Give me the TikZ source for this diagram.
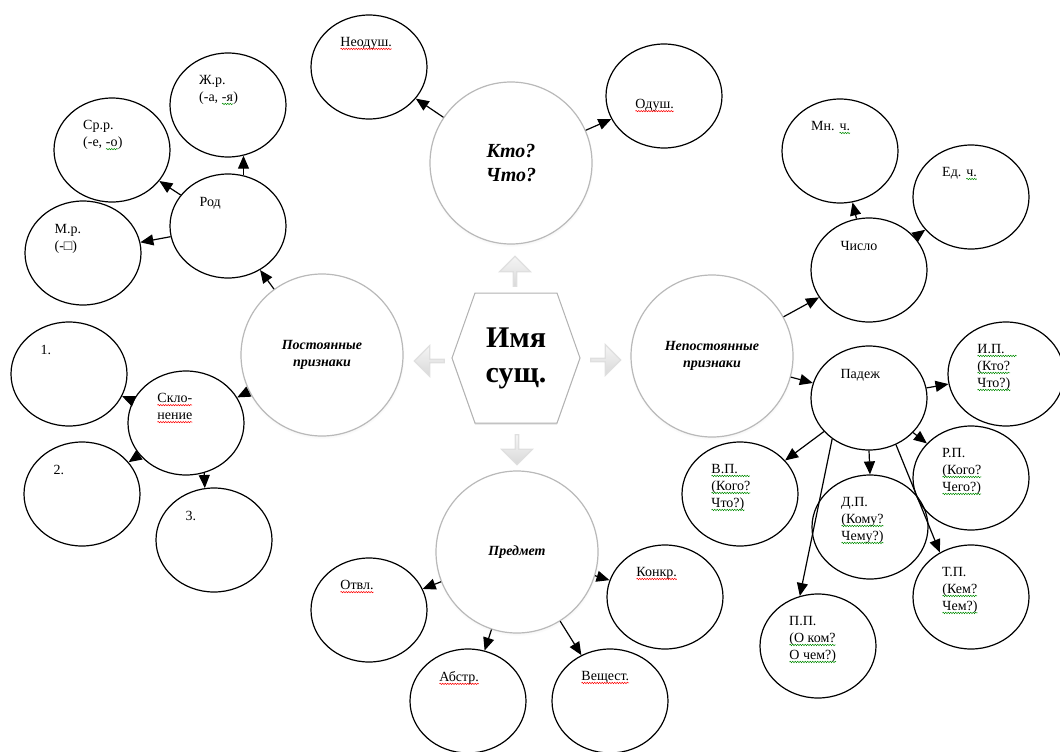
\documentclass[tikz,border=0pt]{standalone}
\usepackage{fontspec}
\setmainfont{Liberation Serif}
\usetikzlibrary{arrows.meta,shapes.geometric,shapes.arrows,shadows,decorations.pathmorphing}
\newcommand{\wavy}[2]{\tikz[baseline=(w.base)]{\node[inner sep=0pt,outer sep=0pt,anchor=base,draw=none,fill=none] (w) {#2};
  \draw[#1,line width=.5pt,decorate,decoration={snake,amplitude=.7pt,segment length=2.5pt}]
    ([yshift=-2.2pt]w.base west) -- ([yshift=-2.2pt]w.base east);}}
\newcommand{\redw}[1]{\wavy{red}{#1}}
\newcommand{\grnw}[1]{\wavy{green!55!black}{#1}}
\tikzset{
  oval/.style={ellipse,draw,line width=1.2pt,minimum width=116pt,minimum height=104pt,inner sep=0pt},
  ovaltext/.style={anchor=north west,xshift=-29pt,yshift=-23pt,inner sep=0pt,align=left,
    font=\fontsize{14}{17}\selectfont},
  bigcirc/.style={circle,draw=gray!55,fill=white,minimum size=162pt,inner sep=0pt,align=center,
    font=\fontsize{14}{17}\selectfont\bfseries\itshape,
    circular drop shadow={opacity=.25,shadow xshift=0pt,shadow yshift=-1.5pt,shadow scale=1.02}},
  grayarrow/.style={single arrow,top color=gray!8,bottom color=gray!30,draw=gray!25,
    minimum height=30pt,minimum width=31pt,single arrow head extend=5pt,inner sep=0pt}
}

\begin{document}
\begin{tikzpicture}[x=1pt,y=-1pt,>={Triangle[length=13pt,width=11pt]},line width=1.2pt]
        \useasboundingbox (0,0) rectangle (1060,752);

        % centre
        \draw[draw=gray!60,fill=white,line width=1pt,drop shadow={opacity=.25,shadow xshift=0pt,shadow yshift=-1.5pt}]
          (475,293) -- (557,293) -- (580,358) -- (557,423) -- (475,423) -- (452,358) -- cycle;
        \node[font=\fontsize{30}{35}\selectfont\bfseries,align=center] (imya) at (516,358) {Имя\\сущ.};

        \node[grayarrow,rotate=90] (up) at (515,272) {};
        \node[grayarrow,rotate=180] (lft) at (430,361) {};
        \node[grayarrow] (rgt) at (605,360) {};
        \node[grayarrow,rotate=-90] (dwn) at (517,449) {};

        \node[bigcirc,font=\fontsize{20}{24}\selectfont\bfseries\itshape] (kto) at (511,163) {Кто?\\Что?};
        \node[bigcirc] (post) at (322,355) {Постоянные\\признаки};
        \node[bigcirc] (nepost) at (712,356) {Непостоянные\\признаки};
        \node[bigcirc] (pred) at (517,552) {Предмет};

        % top
        \node[oval,label={[ovaltext]90:{\redw{Неодуш.}}}] (neod) at (369,67) {};
        \node[oval,label={[ovaltext,yshift=-33pt]90:{\redw{Одуш.}}}] (odush) at (664,96) {};

        % left
        \node[oval,label={[ovaltext]90:{Род}}] (rod) at (228,226) {};
        \node[oval,label={[ovaltext]90:{Ж.р.\\(-а, \grnw{-я})}}] (zhr) at (228,105) {};
        \node[oval,label={[ovaltext]90:{Ср.р.\\(-е, \grnw{-о})}}] (srr) at (112,150) {};
        \node[oval,label={[ovaltext]90:{М.р.\\(-□)}}] (mr) at (83,253) {};
        \node[oval,label={[ovaltext]90:{\redw{Скло-}\\\redw{нение}}}] (sklon) at (186,423) {};
        \node[oval,label={[ovaltext]90:{1.}}] (n1) at (69,374) {};
        \node[oval,label={[ovaltext]90:{2.}}] (n2) at (82,494) {};
        \node[oval,label={[ovaltext]90:{3.}}] (n3) at (214,540) {};

        % right
        \node[oval,label={[ovaltext]90:{Число}}] (chislo) at (869,270) {};
        \node[oval,label={[ovaltext]90:{Мн. \grnw{ч.}}}] (mn) at (840,151) {};
        \node[oval,label={[ovaltext]90:{Ед. \grnw{ч.}}}] (ed) at (971,197) {};
        \node[oval,label={[ovaltext]90:{Падеж}}] (padezh) at (869,398) {};
        \node[oval,label={[ovaltext]90:{\grnw{И.П.\hbox to 12pt{\hfil}}\\\grnw{(Кто?}\\\grnw{Что?)}}}] (ip) at (1006,374) {};
        \node[oval,label={[ovaltext]90:{Р.П.\\\grnw{(Кого?}\\\grnw{Чего?)}}}] (rp) at (971,478) {};
        \node[oval,label={[ovaltext]90:{\grnw{В.П.\hbox to 12pt{\hfil}}\\\grnw{(Кого?}\\\grnw{Что?)}}}] (vp) at (740,494) {};
        \node[oval,label={[ovaltext]90:{Д.П.\\\grnw{(Кому?}\\\grnw{Чему?)}}}] (dp) at (870,527) {};
        \node[oval,label={[ovaltext]90:{Т.П.\\\grnw{(Кем?}\\\grnw{Чем?)}}}] (tp) at (971,597) {};
        \node[oval,label={[ovaltext]90:{П.П.\\\grnw{(О ком?}\\\grnw{О чем?)}}}] (pp) at (818,646) {};

        % bottom
        \node[oval,label={[ovaltext]90:{\redw{Отвл.}}}] (otvl) at (369,610) {};
        \node[oval,label={[ovaltext]90:{\redw{Конкр.}}}] (konkr) at (665,597) {};
        \node[oval,label={[ovaltext]90:{\redw{Абстр.}}}] (abstr) at (468,701) {};
        \node[oval,label={[ovaltext]90:{\redw{Вещест.}}}] (veshch) at (610,701) {};

        \draw[->] (kto) -- (neod);
        \draw[->] (kto) -- (odush);

        \draw[->] (post) -- (rod);
        \draw[->] (rod.73) -- (zhr.287);
        \draw[->] (rod) -- (srr);
        \draw[->] (rod) -- (mr);
        \draw[->] (post) -- (sklon);
        \draw[->] (sklon) -- (n1);
        \draw[->] (sklon) -- (n2);
        \draw[->] (sklon.290) -- (n3.100);

        \draw[->] (nepost) -- (chislo);
        \draw[->] (chislo) -- (mn);
        \draw[->] (chislo) -- (ed);
        \draw[->] (nepost) -- (padezh);
        \draw[->] (padezh) -- (ip);
        \draw[->] (padezh) -- (rp);
        \draw[->] (padezh) -- (vp);
        \draw[->] (padezh.south) -- (dp.north);
        \draw[->] (padezh.228) -- (pp.110);
        \draw[->] (padezh.300) -- (tp.125);

        \draw[->] (pred) -- (otvl);
        \draw[->] (pred) -- (konkr);
        \draw[->] (pred) -- (abstr);
        \draw[->] (pred) -- (veshch);
      \end{tikzpicture}
\end{document}
